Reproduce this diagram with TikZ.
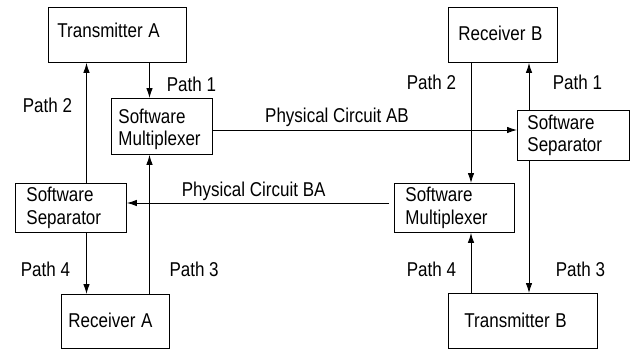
\documentclass[tikz,border=0pt]{standalone}
\usepackage{fontspec}
\usepackage{graphicx}
\setmainfont{Liberation Sans}
\usetikzlibrary{arrows.meta}
\newcommand{\nartxt}[1]{\scalebox{0.85}[1]{#1}}
\tikzset{
  box/.style={draw=black, line width=0.9pt, anchor=north west, inner ysep=0pt,
    align=left, font=\fontsize{20}{22.5}\selectfont},
  lbl/.style={anchor=base west, inner sep=0pt, font=\fontsize{20}{22.5}\selectfont},
  arr/.style={draw=black, line width=0.9pt, -{Latex[length=10pt,width=6.5pt]}},
  ln/.style={draw=black, line width=0.9pt}
}
\begin{document}
\begin{tikzpicture}[x=1pt,y=-1pt]
\useasboundingbox (0,0) rectangle (630,349);
% boxes
\node[box, inner xsep=9pt, text width=120pt, minimum width=138pt, minimum height=55pt, text depth=10pt] (TxA) at (48,7) {\nartxt{Transmitter A}};
\node[box, inner xsep=7pt, text width=87pt, minimum width=101pt, minimum height=56pt, text height=20pt] (MuxA) at (111,98) {\nartxt{Software}\\\nartxt{Multiplexer}};
\node[box, inner xsep=11pt, text width=89pt, minimum width=111pt, minimum height=49pt] (SepA) at (15,183) {\nartxt{Software}\\\nartxt{Separator}};
\node[box, inner xsep=7pt, text width=94pt, minimum width=108pt, minimum height=54pt, text depth=2pt] (RxA) at (61,294) {\nartxt{Receiver A}};
\node[box, inner xsep=10pt, text width=89pt, minimum width=109pt, minimum height=55pt, text depth=3.5pt] (RxB) at (448,7) {\nartxt{Receiver B}};
\node[box, inner xsep=10pt, text width=92pt, minimum width=112pt, minimum height=50pt] (SepB) at (517,110) {\nartxt{Software}\\\nartxt{Separator}};
\node[box, inner xsep=11pt, text width=98pt, minimum width=120pt, minimum height=49pt] (MuxB) at (394,183) {\nartxt{Software}\\\nartxt{Multiplexer}};
\node[box, inner xsep=16pt, text width=117pt, minimum width=149pt, minimum height=55pt, text depth=2pt] (TxB) at (448,293) {\nartxt{Transmitter B}};
% helper coordinates
\coordinate (xL1) at (86.5,0);
\coordinate (xL2) at (149.5,0);
\coordinate (xR1) at (471,0);
\coordinate (xR2) at (529,0);
\coordinate (yAB) at (0,130);
\coordinate (yBA) at (0,203);
% connectors left
\draw[arr] (SepA.north -| xL1) -- (TxA.south -| xL1);
\draw[arr] (SepA.south -| xL1) -- (RxA.north -| xL1);
\draw[arr] (TxA.south -| xL2) -- (MuxA.north -| xL2);
\draw[arr] (RxA.north -| xL2) -- (MuxA.south -| xL2);
% connectors right
\draw[arr] (RxB.south -| xR1) -- (MuxB.north -| xR1);
\draw[arr] (TxB.north -| xR1) -- (MuxB.south -| xR1);
\draw[arr] (SepB.north -| xR2) -- (RxB.south -| xR2);
\draw[arr] (SepB.south -| xR2) -- (TxB.north -| xR2);
% physical circuits
\draw[arr] (MuxA.east |- yAB) -- (SepB.west |- yAB);
\draw[arr, shorten <=5pt] (MuxB.west |- yBA) -- (SepA.east |- yBA);
% labels
\node[lbl] (lA1) at (166.7,91.5) {\nartxt{Path 1}};
\node[lbl] (lA2) at (22.7,112) {\nartxt{Path 2}};
\node[lbl] (lAB) at (265,122.5) {\nartxt{Physical Circuit AB}};
\node[lbl] (lB2) at (406.7,89.3) {\nartxt{Path 2}};
\node[lbl] (lB1) at (552.7,89.3) {\nartxt{Path 1}};
\node[lbl] (lBA) at (181.7,196) {\nartxt{Physical Circuit BA}};
\node[lbl] (lA4) at (20.7,276) {\nartxt{Path 4}};
\node[lbl] (lA3) at (169.3,276) {\nartxt{Path 3}};
\node[lbl] (lB4) at (406.7,276) {\nartxt{Path 4}};
\node[lbl] (lB3) at (555.7,276) {\nartxt{Path 3}};
\end{tikzpicture}
\end{document}
